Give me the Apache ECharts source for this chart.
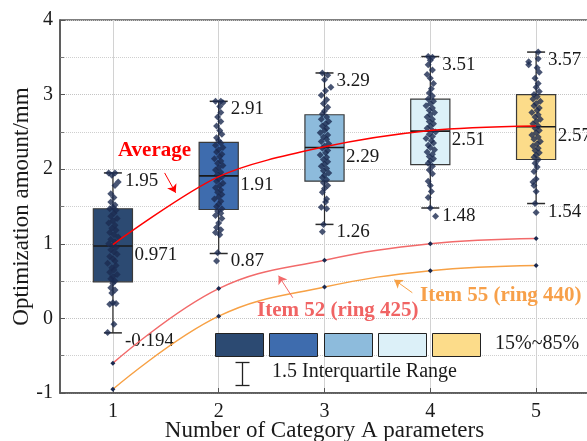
<!DOCTYPE html>
<html>
<head>
<meta charset="utf-8">
<script src="https://cdn.jsdelivr.net/npm/echarts@6/dist/echarts.min.js"></script>
<style>
  html, body { margin: 0; padding: 0; background: #fff; }
  #chart { width: 587px; height: 441px; }
</style>
</head>
<body>
<div id="chart"></div>
<script>
// Category A parameter counts
const categories = [1, 2, 3, 4, 5];

// Box statistics per group
const whiskerLow  = [-0.194, 0.87, 1.26, 1.48, 1.54];
const quartile15  = [0.49, 1.46, 1.84, 2.06, 2.13];
const median      = [0.971, 1.91, 2.29, 2.51, 2.57];
const quartile85  = [1.47, 2.36, 2.73, 2.94, 3.00];
const whiskerHigh = [1.95, 2.91, 3.29, 3.51, 3.57];

// Trend lines
const average = [0.99, 1.90, 2.30, 2.52, 2.58];
const item52  = [-0.60, 0.40, 0.78, 1.00, 1.07];
const item55  = [-0.95, 0.03, 0.42, 0.64, 0.71];

// Individual samples per group: [horizontal jitter, value]
const samples1 = [[-0.04,1.95],[0.02,1.95],[-0.01,1.92],[0.05,1.83],[0.02,1.78],[-0.02,1.67],[0.01,1.62],[-0.02,1.56],[0.02,1.52],[0.0,1.49],[-0.03,1.47],[0.03,1.45],[0.01,1.41],[-0.02,1.37],[0.04,1.34],[0.0,1.31],[-0.04,1.28],[0.02,1.25],[-0.01,1.21],[0.03,1.18],[-0.03,1.15],[0.01,1.12],[0.05,1.09],[-0.02,1.06],[0.02,1.03],[-0.04,1.0],[0.0,0.98],[0.03,0.95],[-0.02,0.92],[0.01,0.89],[0.04,0.86],[-0.03,0.83],[0.0,0.8],[0.02,0.77],[-0.05,0.74],[0.03,0.71],[-0.01,0.68],[0.01,0.65],[-0.03,0.62],[0.04,0.59],[0.0,0.56],[-0.02,0.53],[0.02,0.5],[0.0,0.47],[-0.02,0.41],[0.02,0.38],[-0.01,0.34],[0.0,0.21],[-0.03,0.19],[0.03,0.2],[0.01,-0.08],[-0.05,-0.19]];
const samples2 = [[-0.03,2.91],[0.02,2.91],[0.04,2.89],[0.01,2.84],[0.02,2.76],[-0.01,2.7],[0.02,2.64],[-0.02,2.58],[0.01,2.52],[0.03,2.47],[-0.02,2.42],[0.0,2.38],[0.02,2.35],[-0.03,2.32],[0.04,2.29],[0.0,2.26],[-0.02,2.23],[0.03,2.2],[0.01,2.17],[-0.04,2.14],[0.02,2.11],[-0.01,2.08],[0.04,2.05],[0.0,2.02],[-0.03,1.99],[0.02,1.96],[-0.01,1.93],[0.03,1.9],[0.0,1.87],[-0.02,1.84],[0.04,1.81],[0.01,1.78],[-0.03,1.75],[0.02,1.72],[-0.01,1.69],[0.03,1.66],[0.0,1.63],[-0.04,1.6],[0.02,1.57],[0.0,1.53],[-0.02,1.5],[0.03,1.47],[-0.01,1.44],[0.02,1.41],[-0.03,1.38],[0.03,1.34],[0.0,1.28],[-0.02,1.22],[0.02,1.19],[-0.03,1.15],[0.01,1.12],[-0.01,0.88],[-0.02,0.77]];
const samples3 = [[-0.02,3.29],[0.03,3.26],[0.0,3.2],[0.06,3.1],[0.01,3.05],[-0.03,2.99],[0.02,2.93],[-0.01,2.88],[0.03,2.83],[0.0,2.78],[-0.02,2.74],[0.02,2.7],[-0.03,2.67],[0.04,2.64],[0.01,2.61],[-0.02,2.58],[0.02,2.55],[0.0,2.52],[-0.04,2.49],[0.03,2.46],[-0.01,2.43],[0.02,2.4],[-0.03,2.37],[0.04,2.34],[0.0,2.31],[-0.02,2.28],[0.03,2.25],[0.01,2.22],[-0.04,2.19],[0.02,2.16],[-0.01,2.13],[0.03,2.1],[0.0,2.07],[-0.03,2.04],[0.02,2.01],[-0.01,1.98],[0.04,1.95],[0.0,1.92],[-0.02,1.89],[0.02,1.86],[-0.01,1.82],[0.03,1.78],[0.0,1.74],[-0.02,1.69],[0.02,1.6],[0.01,1.56],[-0.03,1.49],[0.02,1.47],[-0.01,1.26],[-0.02,1.16]];
const samples4 = [[-0.02,3.51],[0.02,3.5],[0.0,3.46],[-0.02,3.4],[0.02,3.33],[-0.03,3.27],[0.0,3.22],[0.03,3.15],[0.01,3.08],[-0.01,3.02],[0.02,2.98],[-0.02,2.94],[0.03,2.91],[0.0,2.88],[-0.04,2.85],[0.02,2.82],[-0.01,2.79],[0.04,2.76],[0.0,2.73],[-0.03,2.7],[0.02,2.67],[-0.01,2.64],[0.03,2.61],[0.0,2.58],[-0.03,2.55],[0.02,2.52],[0.05,2.5],[-0.01,2.47],[0.02,2.44],[-0.04,2.41],[0.01,2.38],[0.03,2.35],[-0.02,2.32],[0.0,2.29],[0.04,2.26],[-0.03,2.23],[0.02,2.2],[-0.01,2.17],[0.03,2.14],[0.0,2.11],[-0.02,2.08],[0.02,2.04],[-0.01,1.99],[0.02,1.94],[-0.02,1.84],[0.0,1.78],[0.01,1.7],[-0.02,1.62],[0.0,1.48],[0.05,1.37]];
const samples5 = [[0.02,3.57],[-0.07,3.44],[-0.07,3.4],[0.02,3.48],[0.01,3.36],[0.03,3.3],[-0.01,3.22],[0.02,3.15],[0.0,3.1],[0.03,3.04],[-0.02,3.0],[0.01,2.97],[-0.03,2.94],[0.04,2.91],[0.0,2.88],[-0.02,2.85],[0.03,2.82],[0.01,2.79],[-0.04,2.76],[0.02,2.73],[-0.01,2.7],[0.04,2.67],[0.0,2.64],[-0.03,2.61],[0.02,2.58],[-0.01,2.55],[0.03,2.52],[0.0,2.49],[-0.04,2.46],[0.02,2.43],[-0.02,2.4],[0.04,2.37],[0.01,2.34],[-0.03,2.31],[0.02,2.28],[-0.01,2.25],[0.03,2.22],[0.0,2.19],[-0.02,2.16],[0.02,2.13],[-0.01,2.08],[0.01,2.03],[-0.02,1.97],[0.0,1.87],[-0.03,1.83],[-0.02,1.78],[0.0,1.7],[-0.01,1.54],[0.0,1.42]];

const boxColors = ['#2c4a72', '#3e6cae', '#8dbbdc', '#dcf0f8', '#fcdc8a'];
const SERIF = '"Liberation Serif", "Times New Roman", serif';

const boxData = categories.map((c, i) =>
  [c, whiskerLow[i], quartile15[i], median[i], quartile85[i], whiskerHigh[i]]);

const sampleData = [];
[samples1, samples2, samples3, samples4, samples5].forEach((group, i) => {
  group.forEach(p => sampleData.push([categories[i] + p[0], p[1]]));
});

function fmt(v) { return String(v); }

function renderBox(params, api) {
  const i = params.dataIndex;
  const x = api.value(0);
  const lo = api.coord([x, api.value(1)]);
  const b1 = api.coord([x, api.value(2)]);
  const md = api.coord([x, api.value(3)]);
  const b3 = api.coord([x, api.value(4)]);
  const hi = api.coord([x, api.value(5)]);
  const halfBox = api.size([0.37, 0])[0] / 2;
  const halfCap = api.size([0.17, 0])[0] / 2;
  const cx = md[0];
  const ink = '#2b2b2b';
  const labelFont = '19px ' + SERIF;
  return {
    type: 'group',
    children: [
      { type: 'line', shape: { x1: cx, y1: lo[1], x2: cx, y2: hi[1] }, style: { stroke: ink, lineWidth: 1.2 } },
      { type: 'line', shape: { x1: cx - halfCap, y1: hi[1], x2: cx + halfCap, y2: hi[1] }, style: { stroke: ink, lineWidth: 1.5 } },
      { type: 'line', shape: { x1: cx - halfCap, y1: lo[1], x2: cx + halfCap, y2: lo[1] }, style: { stroke: ink, lineWidth: 1.5 } },
      { type: 'rect', shape: { x: cx - halfBox, y: b3[1], width: halfBox * 2, height: b1[1] - b3[1] },
        style: { fill: boxColors[i], stroke: '#3a3a3a', lineWidth: 1.2 } },
      { type: 'line', shape: { x1: cx - halfBox, y1: md[1], x2: cx + halfBox, y2: md[1] }, style: { stroke: '#1a1a1a', lineWidth: 1.6 } },
      { type: 'text', x: cx + halfCap + 3, y: hi[1] + 8,
        style: { text: fmt(api.value(5)), font: labelFont, fill: '#1a1a1a', align: 'left', verticalAlign: 'middle' } },
      { type: 'text', x: cx + halfCap + 3, y: lo[1] + 8,
        style: { text: fmt(api.value(1)), font: labelFont, fill: '#1a1a1a', align: 'left', verticalAlign: 'middle' } },
      { type: 'text', x: cx + halfBox + 2, y: md[1] + 9,
        style: { text: fmt(api.value(3)), font: labelFont, fill: '#1a1a1a', align: 'left', verticalAlign: 'middle' } }
    ]
  };
}

const chart = echarts.init(document.getElementById('chart'), null, { renderer: 'canvas' });

const legendLeft = [215, 269, 324, 378, 432];

const option = {
  animation: false,
  backgroundColor: '#ffffff',
  textStyle: { fontFamily: SERIF },
  grid: { left: 60, top: 20, width: 529, bottom: 48, outerBoundsMode: 'none', containLabel: false,
          show: true, borderColor: '#555', borderWidth: 1.5, backgroundColor: 'transparent' },
  xAxis: {
    type: 'value', min: 0.5, max: 5.5,
    name: 'Number of Category A parameters', nameLocation: 'middle', nameGap: 26, nameMoveOverlap: false,
    nameTextStyle: { fontFamily: SERIF, fontSize: 23, color: '#1a1a1a' },
    axisLine: { show: true, onZero: false, lineStyle: { color: '#555', width: 1.5 } },
    axisTick: { show: true, inside: true, length: 5, customValues: categories, lineStyle: { color: '#555' } },
    axisLabel: { customValues: categories, fontFamily: SERIF, fontSize: 20, color: '#1a1a1a', margin: 9 },
    splitLine: { show: true, lineStyle: { color: '#d2d2d2', width: 1, type: 'solid' } }
  },
  yAxis: {
    type: 'value', min: -1, max: 4, interval: 1,
    name: 'Optimization amount/mm', nameLocation: 'middle', nameGap: 27, nameRotate: 90, nameMoveOverlap: false,
    nameTextStyle: { fontFamily: SERIF, fontSize: 23, color: '#1a1a1a' },
    axisLine: { show: true, lineStyle: { color: '#555', width: 1.5 } },
    axisTick: { show: true, inside: true, length: 5, lineStyle: { color: '#555' } },
    minorTick: { show: true, splitNumber: 2, length: 4, lineStyle: { color: '#777' } },
    axisLabel: { fontFamily: SERIF, fontSize: 20, color: '#1a1a1a', margin: 7 },
    splitLine: { show: true, lineStyle: { color: '#c4c4c4', width: 1, type: 'dotted' } },
    minorSplitLine: { show: true, lineStyle: { color: '#cfcfcf', width: 1, type: 'dotted' } }
  },
  series: [
    {
      type: 'custom', name: 'boxes', z: 2,
      renderItem: renderBox,
      encode: { x: 0, y: [1, 2, 3, 4, 5] },
      data: boxData
    },
    {
      type: 'scatter', name: 'samples', z: 3,
      symbol: 'diamond', symbolSize: 7,
      itemStyle: { color: '#1b2a50' },
      data: sampleData
    },
    {
      type: 'line', name: 'Average', z: 5, smooth: 0.3,
      showSymbol: false, symbol: 'none',
      lineStyle: { color: '#ff0000', width: 1.5 },
      data: categories.map((c, i) => [c, average[i]]),
      markLine: {
        silent: true, symbol: ['none', 'arrow'], symbolSize: 8,
        label: { show: false },
        lineStyle: { color: '#ff0000', width: 1, type: 'solid' },
        data: [[{ coord: [1.489, 1.95] }, { coord: [1.593, 1.684] }]]
      }
    },
    {
      type: 'line', name: 'Item 52 (ring 425)', z: 4, smooth: 0.4,
      symbol: 'diamond', symbolSize: 5, showSymbol: true,
      itemStyle: { color: '#1b2a50' },
      lineStyle: { color: '#f26a6a', width: 1.5 },
      data: categories.map((c, i) => [c, item52[i]]),
      markLine: {
        silent: true, symbol: ['none', 'arrow'], symbolSize: 8,
        label: { show: false },
        lineStyle: { color: '#f26a6a', width: 1, type: 'solid' },
        data: [[{ coord: [2.70, 0.277] }, { coord: [2.566, 0.572] }]]
      }
    },
    {
      type: 'line', name: 'Item 55 (ring 440)', z: 4, smooth: 0.4,
      symbol: 'diamond', symbolSize: 5, showSymbol: true,
      itemStyle: { color: '#1b2a50' },
      lineStyle: { color: '#f7a145', width: 1.5 },
      data: categories.map((c, i) => [c, item55[i]]),
      markLine: {
        silent: true, symbol: ['none', 'arrow'], symbolSize: 8,
        label: { show: false },
        lineStyle: { color: '#f7a145', width: 1, type: 'solid' },
        data: [[{ coord: [3.83, 0.344] }, { coord: [3.66, 0.518] }]]
      }
    }
  ],
  graphic: [
    { type: 'text', left: 118, top: 140, z: 10,
      style: { text: 'Average', font: 'bold 21px ' + SERIF, fill: '#ff0000' } },
    { type: 'text', left: 257, top: 300, z: 10,
      style: { text: 'Item 52 (ring 425)', font: 'bold 21px ' + SERIF, fill: '#f06464' } },
    { type: 'text', left: 420, top: 285, z: 10,
      style: { text: 'Item 55 (ring 440)', font: 'bold 21px ' + SERIF, fill: '#f7a04a' } }
  ].concat(legendLeft.map((x, i) => ({
    type: 'rect', left: x, top: 333, z: 10,
    shape: { width: 48, height: 23 },
    style: { fill: boxColors[i], stroke: '#222', lineWidth: 1 }
  }))).concat([
    { type: 'text', left: 495, top: 334, z: 10,
      style: { text: '15%~85%', font: '20px ' + SERIF, fill: '#1a1a1a' } },
    { type: 'group', left: 233, top: 360, z: 10, children: [
      { type: 'line', shape: { x1: 7, y1: 0, x2: 7, y2: 23 }, style: { stroke: '#222', lineWidth: 1.3 } },
      { type: 'line', shape: { x1: 0, y1: 0, x2: 14, y2: 0 }, style: { stroke: '#222', lineWidth: 1.3 } },
      { type: 'line', shape: { x1: 0, y1: 23, x2: 14, y2: 23 }, style: { stroke: '#222', lineWidth: 1.3 } }
    ] },
    { type: 'text', left: 272, top: 362, z: 10,
      style: { text: '1.5 Interquartile Range', font: '20px ' + SERIF, fill: '#1a1a1a' } }
  ])
};

chart.setOption(option);
</script>
</body>
</html>
